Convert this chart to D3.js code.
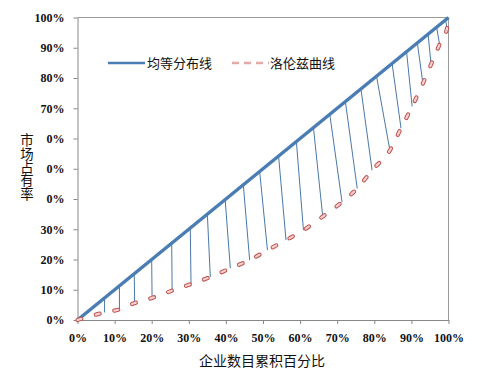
<!DOCTYPE html>
<html>
<head>
<meta charset="utf-8">
<script src="https://cdn.jsdelivr.net/npm/d3@7"></script>
<style>
  body { margin: 0; background: #fff; }
  svg { display: block; }
</style>
</head>
<body>
<div id="chart"></div>
<script>
// tick values and the labels as they appear (some digits hidden behind the axis title)
const xTicks = [0, 10, 20, 30, 40, 50, 60, 70, 80, 90, 100]
const yTicks = [0, 10, 20, 30, 40, 50, 60, 70, 80, 90, 100]
const yTickLabels = ["0%", "10%", "20%", "30%", "0%", "0%", "0%", "70%", "80%", "90%", "100%"]

// Lorenz curve points (cumulative % of firms, cumulative % of market share)
const lorenzX = [0, 7.3, 11.3, 15.4, 20.1, 25.5, 30.6, 35.8, 41.2, 46.4, 51.2, 56.2, 60.9, 66.1, 71.3, 75.4, 79.4, 84.2, 87.2, 90.2, 93.1, 95.3, 97.6, 99.6, 100]
const lorenzY = [0, 2.5, 3.5, 5.6, 7.3, 9.7, 11.9, 14.2, 17.1, 19.8, 23.1, 26.4, 29.7, 34.2, 39.0, 43.5, 49.5, 56.1, 63.4, 70.6, 78.2, 84.5, 91.1, 96.4, 100]
// where each connector leaves the equality line (index matches lorenz points 1..23)
const equalX = [7.3, 11.3, 15.3, 20.0, 25.4, 30.4, 35.0, 39.8, 44.7, 49.1, 54.2, 59.0, 63.6, 68.0, 72.2, 76.4, 80.6, 84.8, 88.7, 91.6, 94.5, 96.8, 99.2]

const seriesNames = ["均等分布线", "洛伦兹曲线"]
const xTitle = "企业数目累积百分比"
const yTitle = "市场占有率"

const width = 486, height = 381
const margin = { top: 17.5, right: 37.5, bottom: 61, left: 77.5 }
const blue = "#4a7db4", red = "#c0504d", pink = "#f6d3d2"

const svg = d3.select("#chart").append("svg")
    .attr("width", width)
    .attr("height", height)

const x = d3.scaleLinear().domain([0, 100]).range([margin.left, width - margin.right])
const y = d3.scaleLinear().domain([0, 100]).range([height - margin.bottom, margin.top])

// plot frame (top & right)
svg.append("path")
    .attr("d", `M${x(0)},${y(100)}H${x(100)}V${y(0)}`)
    .attr("fill", "none")
    .attr("stroke", "#9a9a9a")
    .attr("stroke-width", 1)

const tickFont = "'Liberation Serif', 'Times New Roman', serif"

svg.append("g")
    .attr("transform", `translate(0,${y(0)})`)
    .call(d3.axisBottom(x).tickValues(xTicks).tickSize(4).tickSizeOuter(0).tickPadding(9).tickFormat(d => d + "%"))
    .call(g => g.selectAll("line, path").attr("stroke", "#888"))
    .call(g => g.selectAll("text")
        .attr("fill", "#111")
        .style("font-family", tickFont)
        .style("font-weight", "bold")
        .style("font-size", "12px"))

svg.append("g")
    .attr("transform", `translate(${x(0)},0)`)
    .call(d3.axisLeft(y).tickValues(yTicks).tickSize(4).tickSizeOuter(0).tickPadding(9)
        .tickFormat((d, i) => yTickLabels[i]))
    .call(g => g.selectAll("line, path").attr("stroke", "#888"))
    .call(g => g.selectAll("text")
        .attr("fill", "#111")
        .style("font-family", tickFont)
        .style("font-weight", "bold")
        .style("font-size", "12px"))

// connectors between equality line and Lorenz curve
svg.append("g")
    .selectAll("line")
    .data(equalX)
    .join("line")
    .attr("x1", d => x(d))
    .attr("y1", d => y(d))
    .attr("x2", (d, i) => x(lorenzX[i + 1]))
    .attr("y2", (d, i) => y(lorenzY[i + 1]))
    .attr("stroke", "#4b78a8")
    .attr("stroke-width", 1)

// equality line
svg.append("line")
    .attr("x1", x(0)).attr("y1", y(0))
    .attr("x2", x(100)).attr("y2", y(100))
    .attr("stroke", blue)
    .attr("stroke-width", 3.5)

// Lorenz curve, dashes with outline
const lorenz = d3.line()
    .x(i => x(lorenzX[i]))
    .y(i => y(lorenzY[i]))
    .curve(d3.curveMonotoneX)
const idx = d3.range(lorenzX.length)

svg.append("path")
    .attr("d", lorenz(idx))
    .attr("fill", "none")
    .attr("stroke", red)
    .attr("stroke-width", 4.2)
    .attr("stroke-linecap", "round")
    .attr("stroke-dasharray", "4,15")

svg.append("path")
    .attr("d", lorenz(idx))
    .attr("fill", "none")
    .attr("stroke", pink)
    .attr("stroke-width", 2.2)
    .attr("stroke-linecap", "round")
    .attr("stroke-dasharray", "4,15")

// legend
const legend = svg.append("g").attr("transform", "translate(108,63)")
legend.append("line")
    .attr("x1", 0).attr("x2", 37)
    .attr("stroke", blue).attr("stroke-width", 2.5)
legend.append("text")
    .attr("x", 39).attr("dy", "0.35em")
    .style("font-family", "'Noto Sans CJK SC', sans-serif")
    .style("font-size", "13px")
    .attr("fill", "#111")
    .text(seriesNames[0])
legend.append("line")
    .attr("x1", 124).attr("x2", 161)
    .attr("stroke", "#e2a9a7").attr("stroke-width", 2.5)
    .attr("stroke-dasharray", "7,5")
legend.append("text")
    .attr("x", 162).attr("dy", "0.35em")
    .style("font-family", "'Noto Sans CJK SC', sans-serif")
    .style("font-size", "13px")
    .attr("fill", "#111")
    .text(seriesNames[1])

// axis titles
svg.append("text")
    .attr("x", (x(0) + x(100)) / 2 - 1)
    .attr("y", 361)
    .attr("dy", "0.35em")
    .attr("text-anchor", "middle")
    .style("font-family", "'Noto Sans CJK SC', sans-serif")
    .style("font-size", "14px")
    .attr("fill", "#111")
    .text(xTitle)

// vertical title, upright characters stacked top to bottom
svg.append("text")
    .attr("x", 27)
    .attr("y", 167)
    .attr("text-anchor", "middle")
    .style("writing-mode", "vertical-rl")
    .style("text-orientation", "upright")
    .style("font-family", "'Noto Sans CJK SC', sans-serif")
    .style("font-size", "13.4px")
    .attr("fill", "#111")
    .text(yTitle)
</script>
</body>
</html>
